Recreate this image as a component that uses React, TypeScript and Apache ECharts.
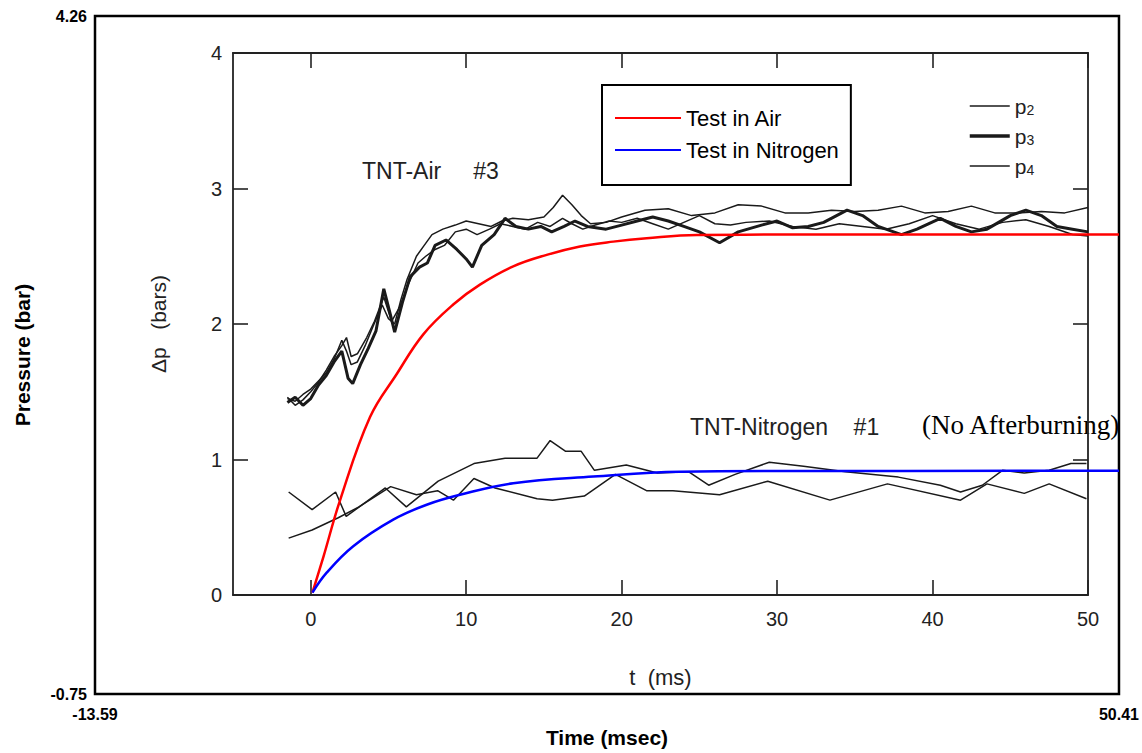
import React, { useEffect, useRef } from "react";
import * as echarts from "echarts";

// Outer (overlay) axes
const outerXRange = [-13.59, 50.41];
const outerYRange = [-0.75, 4.26];

// Inner (scanned figure) axes
const innerXRange = [-5, 50];
const innerYRange = [0, 4];
const innerXTicks = [0, 10, 20, 30, 40, 50];
const innerYTicks = [0, 1, 2, 3, 4];

// Model curves (outer coordinates: msec, bar)
const testInAir = [
  [0, 0], [0.7, 0.27], [1.72, 0.68], [3.6, 1.297], [5.27, 1.615], [6.93, 1.908],
  [8.8, 2.128], [10.47, 2.275], [12.55, 2.41], [14.64, 2.495], [16.72, 2.557],
  [18.8, 2.593], [20.89, 2.618], [24.02, 2.642], [30, 2.645], [50.41, 2.645],
];
const testInNitrogen = [
  [0, 0], [0.89, 0.147], [2.55, 0.343], [5.05, 0.539], [7.14, 0.649], [9.22, 0.7225],
  [12.55, 0.808], [17.55, 0.857], [22.97, 0.893], [30.47, 0.898], [50.41, 0.9],
];

// Measured traces, TNT-Air #3 (inner coordinates: t ms, Δp bars)
const airP2 = [
  [-1.5, 1.45], [-1.0, 1.43], [-0.5, 1.48], [0, 1.52], [0.5, 1.58], [1.0, 1.64], [1.5, 1.74],
  [2.0, 1.88], [2.3, 1.8], [2.6, 1.7], [3.0, 1.72], [3.5, 1.84], [4.0, 1.98], [4.6, 2.14],
  [5.0, 2.04], [5.4, 2.0], [5.8, 2.18], [6.2, 2.33], [6.8, 2.5], [7.3, 2.58], [7.8, 2.66],
  [8.5, 2.7], [9.3, 2.73], [10, 2.76], [10.8, 2.74], [11.6, 2.72], [12.3, 2.76], [13, 2.78],
  [14, 2.77], [15, 2.79], [15.6, 2.86], [16.2, 2.95], [16.8, 2.88], [17.4, 2.8], [18, 2.74],
  [19, 2.75], [20, 2.79], [21.5, 2.84], [23, 2.85], [24.5, 2.8], [26, 2.82], [27.5, 2.88],
  [29, 2.87], [30.5, 2.82], [32, 2.82], [33.5, 2.84], [35, 2.83], [36.5, 2.84], [38, 2.87],
  [39.5, 2.82], [41, 2.83], [42.5, 2.87], [44, 2.82], [45.5, 2.82], [47, 2.83], [48.5, 2.82],
  [50, 2.86],
];
const airP3 = [
  [-1.5, 1.42], [-1.0, 1.46], [-0.5, 1.4], [0, 1.45], [0.5, 1.55], [1.0, 1.62], [1.5, 1.72],
  [2.0, 1.8], [2.4, 1.6], [2.7, 1.56], [3.2, 1.7], [3.7, 1.82], [4.2, 1.95], [4.7, 2.26],
  [5.1, 2.08], [5.4, 1.94], [5.9, 2.16], [6.4, 2.35], [7.0, 2.42], [7.5, 2.45], [8.0, 2.58],
  [8.7, 2.62], [9.4, 2.55], [10, 2.48], [10.4, 2.42], [11, 2.58], [11.8, 2.66], [12.5, 2.78],
  [13.2, 2.72], [14, 2.7], [14.8, 2.72], [15.5, 2.68], [16.3, 2.72], [17, 2.76], [17.8, 2.72],
  [19, 2.7], [20, 2.73], [21, 2.76], [22, 2.79], [23, 2.76], [24, 2.72], [25, 2.68],
  [26.3, 2.6], [27.5, 2.68], [29, 2.73], [30, 2.76], [31, 2.71], [32, 2.72], [33, 2.75],
  [34.5, 2.84], [35.5, 2.8], [36.5, 2.72], [38, 2.66], [39, 2.7], [40.5, 2.78], [41.5, 2.72],
  [42.5, 2.68], [43.5, 2.7], [45, 2.8], [46, 2.84], [47, 2.8], [48, 2.72], [49, 2.7], [50, 2.68],
];
const airP4 = [
  [-1.5, 1.46], [-1.0, 1.4], [-0.5, 1.44], [0, 1.5], [0.5, 1.57], [1.0, 1.66], [1.5, 1.76],
  [2.0, 1.84], [2.3, 1.9], [2.6, 1.76], [3.0, 1.78], [3.6, 1.9], [4.1, 2.02], [4.7, 2.2],
  [5.2, 2.02], [5.7, 2.12], [6.3, 2.3], [6.9, 2.45], [7.4, 2.5], [8.0, 2.55], [8.6, 2.58],
  [9.3, 2.68], [10, 2.7], [10.7, 2.66], [11.5, 2.7], [12.2, 2.74], [13, 2.72], [13.8, 2.7],
  [14.6, 2.75], [15.4, 2.72], [16.2, 2.78], [16.8, 2.74], [17.5, 2.7], [18.3, 2.73],
  [19.2, 2.76], [20, 2.75], [21, 2.78], [22, 2.74], [23, 2.7], [24, 2.75], [25, 2.8],
  [26, 2.74], [27, 2.73], [28, 2.75], [29.5, 2.76], [31, 2.72], [32.5, 2.7], [34, 2.74],
  [35.5, 2.72], [37, 2.7], [38.5, 2.74], [40, 2.8], [41.5, 2.74], [43, 2.7], [44.5, 2.75],
  [46, 2.77], [47.5, 2.72], [49, 2.66], [50, 2.65],
];

// Measured traces, TNT-Nitrogen #1
const nitrogenA = [
  [-1.42, 0.76], [0.09, 0.63], [1.6, 0.76], [2.28, 0.58], [4.8, 0.79], [6.15, 0.65],
  [8.2, 0.84], [10.5, 0.97], [12.5, 1.01], [14.56, 1.01], [15.4, 1.14], [16.4, 1.06],
  [17.4, 1.06], [18.25, 0.92], [20.3, 0.96], [22.3, 0.9], [24.3, 0.91], [25.6, 0.81],
  [27.3, 0.89], [29.5, 0.98], [31.7, 0.95], [34.4, 0.91], [37.8, 0.87], [40.5, 0.81],
  [41.8, 0.76], [43.2, 0.81], [44.5, 0.92], [45.9, 0.9], [47.5, 0.92], [48.9, 0.97], [49.9, 0.97],
];
const nitrogenB = [
  [-1.42, 0.42], [0.09, 0.48], [1.77, 0.57], [3.1, 0.65], [5.14, 0.8], [6.8, 0.74],
  [8.16, 0.77], [9.18, 0.7], [10.5, 0.86], [11.86, 0.79], [14.56, 0.71], [15.55, 0.7],
  [17.6, 0.73], [19.6, 0.89], [21.6, 0.77], [23.3, 0.77], [26.3, 0.74], [29.4, 0.84],
  [33.4, 0.7], [37.1, 0.82], [41.8, 0.7], [43.5, 0.82], [45.9, 0.75], [47.5, 0.82], [49.9, 0.71],
];

const scanColor = "#1a1a1a";
const sans = "'Liberation Sans', Arial, Helvetica, sans-serif";

export default function App() {
  const ref = useRef<HTMLDivElement>(null);

  useEffect(() => {
    if (!ref.current) return;
    const chart = echarts.init(ref.current, undefined, { renderer: "svg" });

    const trace = (name: string, data: number[][], width: number) => ({
      name,
      type: "line",
      xAxisIndex: 1,
      yAxisIndex: 1,
      data,
      symbol: "none",
      z: 2,
      lineStyle: { color: scanColor, width },
      itemStyle: { color: scanColor },
    });

    const innerFrameLine = { show: true, onZero: false, lineStyle: { color: "#222", width: 1.8 } };
    const innerTick = (values: number[]) => ({
      show: true, inside: true, length: 15, customValues: values,
      lineStyle: { color: "#222", width: 1.6 },
    });

    chart.setOption({
      animation: false,
      backgroundColor: "#fff",
      grid: [
        {
          left: 95, top: 16, width: 1024, height: 683,
          show: true, borderColor: "#000", borderWidth: 2.5, backgroundColor: "transparent",
        },
        { left: 233, top: 53, width: 855, height: 542, show: false },
      ],
      xAxis: [
        {
          type: "value", gridIndex: 0, min: outerXRange[0], max: outerXRange[1],
          axisLine: { show: false }, axisTick: { show: false }, splitLine: { show: false },
          axisLabel: {
            customValues: outerXRange, margin: 12, color: "#000",
            fontFamily: sans, fontWeight: "bold", fontSize: 16,
            formatter: (v: number) => v.toFixed(2),
          },
          name: "Time (msec)", nameLocation: "middle", nameGap: 31,
          nameTextStyle: { fontFamily: sans, fontWeight: "bold", fontSize: 21, color: "#000" },
        },
        {
          type: "value", gridIndex: 1, min: innerXRange[0], max: innerXRange[1],
          axisLine: innerFrameLine,
          axisTick: innerTick(innerXTicks),
          axisLabel: { customValues: innerXTicks, margin: 14, color: "#222", fontFamily: sans, fontSize: 20 },
          splitLine: { show: false },
          name: "t  (ms)", nameLocation: "middle", nameGap: 71,
          nameTextStyle: { fontFamily: sans, fontSize: 22, color: "#222" },
        },
        {
          type: "value", gridIndex: 1, position: "top", min: innerXRange[0], max: innerXRange[1],
          axisLine: innerFrameLine,
          axisTick: innerTick(innerXTicks),
          axisLabel: { show: false }, splitLine: { show: false },
        },
      ],
      yAxis: [
        {
          type: "value", gridIndex: 0, min: outerYRange[0], max: outerYRange[1],
          axisLine: { show: false }, axisTick: { show: false }, splitLine: { show: false },
          axisLabel: {
            customValues: outerYRange, margin: 8, color: "#000",
            fontFamily: sans, fontWeight: "bold", fontSize: 16,
            formatter: (v: number) => v.toFixed(2),
          },
          name: "Pressure (bar)", nameLocation: "middle", nameGap: 62,
          nameTextStyle: { fontFamily: sans, fontWeight: "bold", fontSize: 21, color: "#000" },
        },
        {
          type: "value", gridIndex: 1, min: innerYRange[0], max: innerYRange[1], interval: 1,
          axisLine: innerFrameLine,
          axisTick: innerTick(innerYTicks),
          axisLabel: { customValues: innerYTicks, margin: 11, color: "#222", fontFamily: sans, fontSize: 20 },
          splitLine: { show: false },
          name: "Δp   (bars)", nameLocation: "middle", nameGap: 64,
          nameTextStyle: { fontFamily: sans, fontSize: 21, color: "#222" },
        },
        {
          type: "value", gridIndex: 1, position: "right", min: innerYRange[0], max: innerYRange[1], interval: 1,
          axisLine: innerFrameLine,
          axisTick: innerTick(innerYTicks),
          axisLabel: { show: false }, splitLine: { show: false },
        },
      ],
      legend: [
        {
          data: ["Test in Air", "Test in Nitrogen"],
          orient: "vertical", left: 602, top: 85,
          padding: [22, 12, 24, 12],
          itemWidth: 66, itemHeight: 14, itemGap: 10,
          itemStyle: { opacity: 0 },
          borderColor: "#000", borderWidth: 2, backgroundColor: "#fff",
          textStyle: { fontFamily: sans, fontSize: 22, color: "#000", lineHeight: 22 },
        },
        {
          data: [
            { name: "p2", lineStyle: { width: 1.5, color: scanColor } },
            { name: "p3", lineStyle: { width: 3.5, color: scanColor } },
            { name: "p4", lineStyle: { width: 1.5, color: scanColor } },
          ],
          orient: "vertical", left: 968, top: 95, padding: 0,
          itemWidth: 40, itemHeight: 14, itemGap: 8,
          itemStyle: { opacity: 0 },
          formatter: (name: string) => `{b|p}{s|${name.slice(1)}}`,
          textStyle: {
            color: "#222", fontFamily: sans, fontSize: 21, lineHeight: 22,
            rich: {
              b: { fontFamily: sans, fontSize: 21, color: "#222" },
              s: { fontFamily: sans, fontSize: 14, color: "#222", padding: [8, 0, 0, 0] },
            },
          },
        },
      ],
      graphic: [
        {
          type: "text", left: 362, top: 159,
          style: { text: "TNT-Air     #3", fontFamily: sans, fontSize: 23, fill: "#222" },
        },
        {
          type: "text", left: 690, top: 415,
          style: { text: "TNT-Nitrogen    #1", fontFamily: sans, fontSize: 23, fill: "#222" },
        },
        {
          type: "text", left: 922, top: 411,
          style: { text: "(No Afterburning)", fontFamily: "'Liberation Serif', 'Times New Roman', serif", fontSize: 27, fill: "#000" },
        },
      ],
      series: [
        trace("p2", airP2, 1.5),
        trace("p3", airP3, 3),
        trace("p4", airP4, 1.5),
        trace("Nitrogen trace A", nitrogenA, 1.5),
        trace("Nitrogen trace B", nitrogenB, 1.5),
        {
          name: "Test in Air", type: "line", xAxisIndex: 0, yAxisIndex: 0,
          data: testInAir, symbol: "none", smooth: 0.4, z: 5,
          lineStyle: { color: "#ff0000", width: 2.5 }, itemStyle: { color: "#ff0000" },
        },
        {
          name: "Test in Nitrogen", type: "line", xAxisIndex: 0, yAxisIndex: 0,
          data: testInNitrogen, symbol: "none", smooth: 0.4, z: 5,
          lineStyle: { color: "#0000ff", width: 2.5 }, itemStyle: { color: "#0000ff" },
        },
      ],
    });

    return () => chart.dispose();
  }, []);

  return (
    <div
      ref={ref}
      style={{ position: "absolute", left: 0, top: 0, width: 1142, height: 753 }}
    />
  );
}
